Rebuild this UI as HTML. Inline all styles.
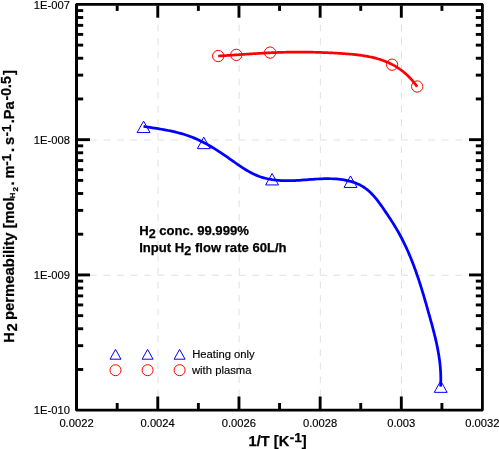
<!DOCTYPE html><html><head><meta charset="utf-8"><title>H2 permeability</title>
<style>html,body{margin:0;padding:0;background:#fff}svg{display:block}text{font-family:"Liberation Sans",Arial,sans-serif;fill:#000;stroke:#000;stroke-width:0.15px}.b{font-weight:bold;stroke-width:0.25px}</style></head><body>
<svg width="499" height="449" viewBox="0 0 499 449">
<rect width="499" height="449" fill="#fff"/>
<g stroke="#e0e0e0" stroke-width="1" stroke-dasharray="6.765 6.765" fill="none">
<line x1="157.98" y1="410.10" x2="157.98" y2="4.30" stroke-dashoffset="0"/>
<line x1="239.16" y1="410.10" x2="239.16" y2="4.30" stroke-dashoffset="0"/>
<line x1="320.34" y1="410.10" x2="320.34" y2="4.30" stroke-dashoffset="0"/>
<line x1="401.52" y1="410.10" x2="401.52" y2="4.30" stroke-dashoffset="0"/>
<line x1="76.50" y1="139.97" x2="482.40" y2="139.97" stroke-dashoffset="0"/>
<line x1="76.50" y1="275.23" x2="482.40" y2="275.23" stroke-dashoffset="0"/>
</g>
<path d="M143.55,126.40 L145.75,126.74 L147.97,127.08 L150.19,127.43 L152.43,127.77 L154.67,128.12 L156.92,128.48 L159.18,128.85 L161.43,129.24 L163.69,129.63 L165.95,130.05 L168.20,130.49 L170.45,130.95 L172.69,131.43 L174.93,131.94 L177.15,132.48 L179.37,133.05 L181.57,133.65 L183.76,134.30 L185.93,134.98 L188.09,135.70 L190.22,136.46 L192.34,137.28 L194.43,138.13 L196.51,139.03 L198.56,139.96 L200.60,140.94 L202.63,141.95 L204.63,142.99 L206.63,144.07 L208.60,145.17 L210.57,146.31 L212.52,147.47 L214.46,148.66 L216.39,149.86 L218.31,151.09 L220.22,152.34 L222.12,153.60 L224.01,154.88 L225.90,156.18 L227.78,157.48 L229.65,158.79 L231.52,160.11 L233.39,161.43 L235.26,162.75 L237.13,164.05 L239.01,165.35 L240.90,166.62 L242.80,167.86 L244.72,169.08 L246.65,170.25 L248.61,171.38 L250.58,172.47 L252.59,173.50 L254.62,174.47 L256.68,175.37 L258.78,176.20 L260.92,176.95 L263.09,177.63 L265.30,178.22 L267.53,178.75 L269.78,179.20 L272.05,179.59 L274.33,179.91 L276.62,180.18 L278.91,180.38 L281.19,180.53 L283.47,180.63 L285.74,180.68 L288.00,180.69 L290.27,180.67 L292.53,180.61 L294.78,180.52 L297.04,180.40 L299.30,180.27 L301.56,180.12 L303.82,179.96 L306.08,179.79 L308.35,179.62 L310.62,179.45 L312.89,179.29 L315.18,179.14 L317.47,179.00 L319.77,178.89 L322.08,178.79 L324.39,178.73 L326.71,178.70 L329.03,178.71 L331.35,178.75 L333.66,178.84 L335.96,178.98 L338.24,179.17 L340.52,179.42 L342.77,179.73 L345.00,180.10 L347.20,180.54 L349.38,181.06 L351.52,181.65 L353.63,182.32 L355.69,183.07 L357.72,183.92 L359.70,184.85 L361.63,185.88 L363.52,187.02 L365.34,188.25 L367.11,189.60 L368.83,191.05 L370.49,192.59 L372.10,194.21 L373.66,195.91 L375.18,197.66 L376.67,199.48 L378.12,201.33 L379.53,203.23 L380.92,205.14 L382.28,207.07 L383.62,209.01 L384.93,210.94 L386.24,212.86 L387.53,214.77 L388.80,216.67 L390.05,218.57 L391.29,220.47 L392.50,222.37 L393.70,224.27 L394.88,226.19 L396.04,228.12 L397.18,230.07 L398.30,232.03 L399.39,234.00 L400.47,235.99 L401.53,237.99 L402.56,240.00 L403.58,242.02 L404.58,244.06 L405.55,246.10 L406.50,248.16 L407.44,250.22 L408.35,252.29 L409.25,254.37 L410.13,256.47 L410.99,258.56 L411.84,260.67 L412.66,262.79 L413.48,264.91 L414.27,267.04 L415.06,269.17 L415.83,271.32 L416.58,273.47 L417.32,275.62 L418.06,277.78 L418.78,279.94 L419.48,282.11 L420.18,284.28 L420.87,286.46 L421.55,288.64 L422.22,290.82 L422.89,293.01 L423.54,295.20 L424.19,297.39 L424.84,299.59 L425.47,301.78 L426.11,303.98 L426.73,306.17 L427.36,308.37 L427.98,310.57 L428.60,312.76 L429.22,314.96 L429.83,317.16 L430.45,319.35 L431.05,321.55 L431.66,323.74 L432.25,325.94 L432.84,328.14 L433.41,330.34 L433.98,332.54 L434.53,334.74 L435.07,336.94 L435.59,339.15 L436.10,341.36 L436.59,343.57 L437.06,345.78 L437.51,348.00 L437.93,350.22 L438.33,352.45 L438.71,354.68 L439.06,356.92 L439.38,359.16 L439.68,361.40 L439.94,363.66 L440.17,365.92 L440.37,368.18 L440.53,370.45 L440.66,372.73 L440.74,375.02 L440.80,377.31 L440.81,379.61 L440.77,381.92 L440.70,384.24 L440.58,386.57" fill="none" stroke="#0000ff" stroke-width="2.75"/>
<path d="M218.21,56.07 L219.25,56.00 L220.30,55.93 L221.34,55.86 L222.39,55.79 L223.44,55.72 L224.48,55.65 L225.53,55.58 L226.58,55.51 L227.63,55.44 L228.68,55.37 L229.72,55.30 L230.77,55.23 L231.82,55.16 L232.87,55.09 L233.92,55.01 L234.97,54.94 L236.02,54.87 L237.07,54.80 L238.12,54.73 L239.17,54.66 L240.22,54.58 L241.27,54.51 L242.32,54.44 L243.38,54.37 L244.43,54.30 L245.48,54.23 L246.53,54.16 L247.58,54.09 L248.63,54.03 L249.69,53.96 L250.74,53.89 L251.79,53.82 L252.84,53.76 L253.89,53.69 L254.95,53.63 L256.00,53.56 L257.05,53.50 L258.10,53.44 L259.16,53.38 L260.21,53.32 L261.26,53.26 L262.31,53.20 L263.37,53.14 L264.42,53.08 L265.47,53.03 L266.52,52.97 L267.58,52.92 L268.63,52.87 L269.68,52.82 L270.73,52.77 L271.78,52.72 L272.84,52.67 L273.89,52.63 L274.94,52.59 L275.99,52.54 L277.04,52.50 L278.09,52.46 L279.14,52.43 L280.19,52.39 L281.25,52.36 L282.30,52.32 L283.35,52.29 L284.40,52.26 L285.45,52.24 L286.50,52.21 L287.54,52.19 L288.59,52.17 L289.64,52.15 L290.69,52.13 L291.74,52.11 L292.79,52.10 L293.84,52.09 L294.88,52.08 L295.93,52.07 L296.98,52.07 L298.03,52.06 L299.07,52.06 L300.12,52.06 L301.17,52.06 L302.22,52.07 L303.26,52.08 L304.31,52.08 L305.36,52.09 L306.40,52.11 L307.45,52.12 L308.50,52.13 L309.55,52.15 L310.59,52.17 L311.64,52.19 L312.69,52.21 L313.74,52.24 L314.78,52.26 L315.83,52.29 L316.88,52.32 L317.93,52.35 L318.98,52.39 L320.03,52.42 L321.08,52.46 L322.13,52.50 L323.18,52.54 L324.23,52.58 L325.28,52.62 L326.33,52.67 L327.38,52.71 L328.43,52.76 L329.49,52.81 L330.54,52.86 L331.59,52.91 L332.65,52.97 L333.70,53.02 L334.76,53.08 L335.82,53.14 L336.87,53.20 L337.93,53.26 L338.99,53.33 L340.05,53.39 L341.11,53.46 L342.16,53.53 L343.23,53.60 L344.29,53.67 L345.35,53.74 L346.41,53.82 L347.47,53.90 L348.53,53.99 L349.59,54.07 L350.65,54.16 L351.71,54.26 L352.76,54.36 L353.82,54.46 L354.88,54.57 L355.93,54.69 L356.98,54.81 L358.04,54.93 L359.09,55.06 L360.14,55.20 L361.18,55.34 L362.23,55.49 L363.27,55.65 L364.31,55.82 L365.35,55.99 L366.38,56.17 L367.41,56.36 L368.44,56.55 L369.47,56.76 L370.49,56.97 L371.51,57.19 L372.53,57.42 L373.55,57.66 L374.56,57.91 L375.56,58.17 L376.56,58.45 L377.56,58.73 L378.56,59.02 L379.55,59.32 L380.53,59.64 L381.51,59.96 L382.49,60.30 L383.46,60.65 L384.42,61.02 L385.38,61.39 L386.34,61.78 L387.29,62.18 L388.24,62.60 L389.17,63.03 L390.11,63.47 L391.04,63.93 L391.96,64.40 L392.87,64.88 L393.78,65.38 L394.68,65.89 L395.58,66.42 L396.47,66.96 L397.35,67.52 L398.22,68.08 L399.09,68.67 L399.94,69.26 L400.79,69.87 L401.64,70.50 L402.47,71.14 L403.30,71.79 L404.12,72.46 L404.92,73.14 L405.72,73.83 L406.52,74.54 L407.30,75.26 L408.07,75.99 L408.83,76.74 L409.59,77.50 L410.33,78.28 L411.06,79.07 L411.79,79.87 L412.50,80.69 L413.20,81.52 L413.89,82.36 L414.57,83.22 L415.24,84.09 L415.90,84.97 L416.55,85.87 L417.18,86.78" fill="none" stroke="#ff0000" stroke-width="2.7"/>
<path d="M143.55,121.05 L150.00,132.55 L137.10,132.55 Z" fill="none" stroke="#0000ff" stroke-width="1"/>
<path d="M203.80,137.15 L210.25,148.65 L197.35,148.65 Z" fill="none" stroke="#0000ff" stroke-width="1"/>
<path d="M272.10,173.45 L278.55,184.95 L265.65,184.95 Z" fill="none" stroke="#0000ff" stroke-width="1"/>
<path d="M350.50,175.95 L356.95,187.45 L344.05,187.45 Z" fill="none" stroke="#0000ff" stroke-width="1"/>
<path d="M440.70,380.85 L447.15,392.35 L434.25,392.35 Z" fill="none" stroke="#0000ff" stroke-width="1"/>
<circle cx="218.20" cy="56.05" r="5.65" fill="none" stroke="#ff0000" stroke-width="1"/>
<circle cx="236.30" cy="54.85" r="5.65" fill="none" stroke="#ff0000" stroke-width="1"/>
<circle cx="270.10" cy="52.60" r="5.65" fill="none" stroke="#ff0000" stroke-width="1"/>
<circle cx="392.10" cy="64.70" r="5.65" fill="none" stroke="#ff0000" stroke-width="1"/>
<circle cx="417.20" cy="86.50" r="5.65" fill="none" stroke="#ff0000" stroke-width="1"/>
<path d="M115.50,349.40 L121.00,359.20 L110.00,359.20 Z" fill="none" stroke="#0000ff" stroke-width="1"/>
<circle cx="115.50" cy="370.20" r="5.5" fill="none" stroke="#ff0000" stroke-width="1"/>
<path d="M147.60,349.40 L153.10,359.20 L142.10,359.20 Z" fill="none" stroke="#0000ff" stroke-width="1"/>
<circle cx="147.60" cy="370.20" r="5.5" fill="none" stroke="#ff0000" stroke-width="1"/>
<path d="M179.60,349.40 L185.10,359.20 L174.10,359.20 Z" fill="none" stroke="#0000ff" stroke-width="1"/>
<circle cx="179.60" cy="370.20" r="5.5" fill="none" stroke="#ff0000" stroke-width="1"/>
<path fill="#000" fill-rule="evenodd" d="M76.2,3.0 L482.6,3.0 L483.8,4.2 L483.8,410.2 L482.6,411.4 L76.2,411.4 L75.0,410.2 L75.0,4.2 Z M78.0,5.7 L78.0,408.8 L481.0,408.8 L481.0,5.7 Z"/>
<g stroke="#000" stroke-width="2.9" fill="none">
<line x1="117.19" y1="409.0" x2="117.19" y2="403.00"/>
<line x1="117.19" y1="5.5" x2="117.19" y2="10.90"/>
<line x1="157.78" y1="409.0" x2="157.78" y2="396.50"/>
<line x1="157.78" y1="5.5" x2="157.78" y2="17.70"/>
<line x1="198.37" y1="409.0" x2="198.37" y2="403.00"/>
<line x1="198.37" y1="5.5" x2="198.37" y2="10.90"/>
<line x1="238.96" y1="409.0" x2="238.96" y2="396.50"/>
<line x1="238.96" y1="5.5" x2="238.96" y2="17.70"/>
<line x1="279.55" y1="409.0" x2="279.55" y2="403.00"/>
<line x1="279.55" y1="5.5" x2="279.55" y2="10.90"/>
<line x1="320.14" y1="409.0" x2="320.14" y2="396.50"/>
<line x1="320.14" y1="5.5" x2="320.14" y2="17.70"/>
<line x1="360.73" y1="409.0" x2="360.73" y2="403.00"/>
<line x1="360.73" y1="5.5" x2="360.73" y2="10.90"/>
<line x1="401.32" y1="409.0" x2="401.32" y2="396.50"/>
<line x1="401.32" y1="5.5" x2="401.32" y2="17.70"/>
<line x1="441.91" y1="409.0" x2="441.91" y2="403.00"/>
<line x1="441.91" y1="5.5" x2="441.91" y2="10.90"/>
<line x1="77.8" y1="139.67" x2="90.0" y2="139.67"/>
<line x1="481.2" y1="139.67" x2="469.0" y2="139.67"/>
<line x1="77.8" y1="98.95" x2="83.2" y2="98.95"/>
<line x1="481.2" y1="98.95" x2="475.8" y2="98.95"/>
<line x1="77.8" y1="75.13" x2="83.2" y2="75.13"/>
<line x1="481.2" y1="75.13" x2="475.8" y2="75.13"/>
<line x1="77.8" y1="58.23" x2="83.2" y2="58.23"/>
<line x1="481.2" y1="58.23" x2="475.8" y2="58.23"/>
<line x1="77.8" y1="45.12" x2="83.2" y2="45.12"/>
<line x1="481.2" y1="45.12" x2="475.8" y2="45.12"/>
<line x1="77.8" y1="34.41" x2="83.2" y2="34.41"/>
<line x1="481.2" y1="34.41" x2="475.8" y2="34.41"/>
<line x1="77.8" y1="25.35" x2="83.2" y2="25.35"/>
<line x1="481.2" y1="25.35" x2="475.8" y2="25.35"/>
<line x1="77.8" y1="17.51" x2="83.2" y2="17.51"/>
<line x1="481.2" y1="17.51" x2="475.8" y2="17.51"/>
<line x1="77.8" y1="10.59" x2="83.2" y2="10.59"/>
<line x1="481.2" y1="10.59" x2="475.8" y2="10.59"/>
<line x1="77.8" y1="274.93" x2="90.0" y2="274.93"/>
<line x1="481.2" y1="274.93" x2="469.0" y2="274.93"/>
<line x1="77.8" y1="234.21" x2="83.2" y2="234.21"/>
<line x1="481.2" y1="234.21" x2="475.8" y2="234.21"/>
<line x1="77.8" y1="210.39" x2="83.2" y2="210.39"/>
<line x1="481.2" y1="210.39" x2="475.8" y2="210.39"/>
<line x1="77.8" y1="193.49" x2="83.2" y2="193.49"/>
<line x1="481.2" y1="193.49" x2="475.8" y2="193.49"/>
<line x1="77.8" y1="180.39" x2="83.2" y2="180.39"/>
<line x1="481.2" y1="180.39" x2="475.8" y2="180.39"/>
<line x1="77.8" y1="169.68" x2="83.2" y2="169.68"/>
<line x1="481.2" y1="169.68" x2="475.8" y2="169.68"/>
<line x1="77.8" y1="160.62" x2="83.2" y2="160.62"/>
<line x1="481.2" y1="160.62" x2="475.8" y2="160.62"/>
<line x1="77.8" y1="152.78" x2="83.2" y2="152.78"/>
<line x1="481.2" y1="152.78" x2="475.8" y2="152.78"/>
<line x1="77.8" y1="145.86" x2="83.2" y2="145.86"/>
<line x1="481.2" y1="145.86" x2="475.8" y2="145.86"/>
<line x1="77.8" y1="369.48" x2="83.2" y2="369.48"/>
<line x1="481.2" y1="369.48" x2="475.8" y2="369.48"/>
<line x1="77.8" y1="345.66" x2="83.2" y2="345.66"/>
<line x1="481.2" y1="345.66" x2="475.8" y2="345.66"/>
<line x1="77.8" y1="328.76" x2="83.2" y2="328.76"/>
<line x1="481.2" y1="328.76" x2="475.8" y2="328.76"/>
<line x1="77.8" y1="315.65" x2="83.2" y2="315.65"/>
<line x1="481.2" y1="315.65" x2="475.8" y2="315.65"/>
<line x1="77.8" y1="304.94" x2="83.2" y2="304.94"/>
<line x1="481.2" y1="304.94" x2="475.8" y2="304.94"/>
<line x1="77.8" y1="295.89" x2="83.2" y2="295.89"/>
<line x1="481.2" y1="295.89" x2="475.8" y2="295.89"/>
<line x1="77.8" y1="288.04" x2="83.2" y2="288.04"/>
<line x1="481.2" y1="288.04" x2="475.8" y2="288.04"/>
<line x1="77.8" y1="281.12" x2="83.2" y2="281.12"/>
<line x1="481.2" y1="281.12" x2="475.8" y2="281.12"/>
</g>
<g font-size="11.2">
<text x="76.50" y="427.3" text-anchor="middle">0.0022</text>
<text x="157.68" y="427.3" text-anchor="middle">0.0024</text>
<text x="238.86" y="427.3" text-anchor="middle">0.0026</text>
<text x="320.04" y="427.3" text-anchor="middle">0.0028</text>
<text x="401.22" y="427.3" text-anchor="middle">0.003</text>
<text x="482.40" y="427.3" text-anchor="middle">0.0032</text>
<text x="69.9" y="8.50" text-anchor="end">1E-007</text>
<text x="69.9" y="143.77" text-anchor="end">1E-008</text>
<text x="69.9" y="279.03" text-anchor="end">1E-009</text>
<text x="69.9" y="414.30" text-anchor="end">1E-010</text>
</g>
<text class="b" font-size="14.67" x="248.6" y="445.9">1/T [K<tspan font-size="13.6" dy="-4" dx="0.4">-1</tspan><tspan dy="4">]</tspan></text>
<text class="b" transform="rotate(-90)"><tspan font-size="14.67" x="-342.7" y="14.0">H</tspan><tspan font-size="14.2" x="-331.3" y="17.4">2 </tspan><tspan font-size="14.85" x="-320.0" y="14.0">permeability </tspan><tspan font-size="14.67" x="-228.3" y="14.0">[mol</tspan><tspan font-size="7.7" x="-198.2" y="15.2">H</tspan><tspan font-size="8.0" x="-191.5" y="17.8">2</tspan><tspan font-size="14.67" x="-185.6" y="14.2">. </tspan><tspan font-size="14.67" x="-178.6" y="14.0">m</tspan><tspan font-size="13.5" x="-165.7" y="10.6">-1</tspan><tspan font-size="14.67" x="-152.1" y="14.0">. </tspan><tspan font-size="14.67" x="-145.1" y="14.0">s</tspan><tspan font-size="13.5" x="-136.4" y="10.6">-1</tspan><tspan font-size="14.67" x="-123.3" y="14.0">.Pa</tspan><tspan font-size="14.0" x="-100.4" y="10.6">-0.5</tspan><tspan font-size="14.67" x="-75.0" y="14.0">]</tspan></text>
<text class="b" font-size="13.1" x="139.2" y="234.8">H<tspan font-size="12.6" dy="3">2</tspan><tspan dy="-3"> conc. 99.999%</tspan></text>
<text class="b" font-size="13.1" x="139.2" y="252.1">Input H<tspan font-size="12.6" dy="3">2</tspan><tspan dy="-3"> flow rate 60L/h</tspan></text>
<text font-size="11.25" x="192.2" y="357.6">Heating only</text>
<text font-size="11.25" x="192.0" y="373.5">with plasma</text>
</svg></body></html>
